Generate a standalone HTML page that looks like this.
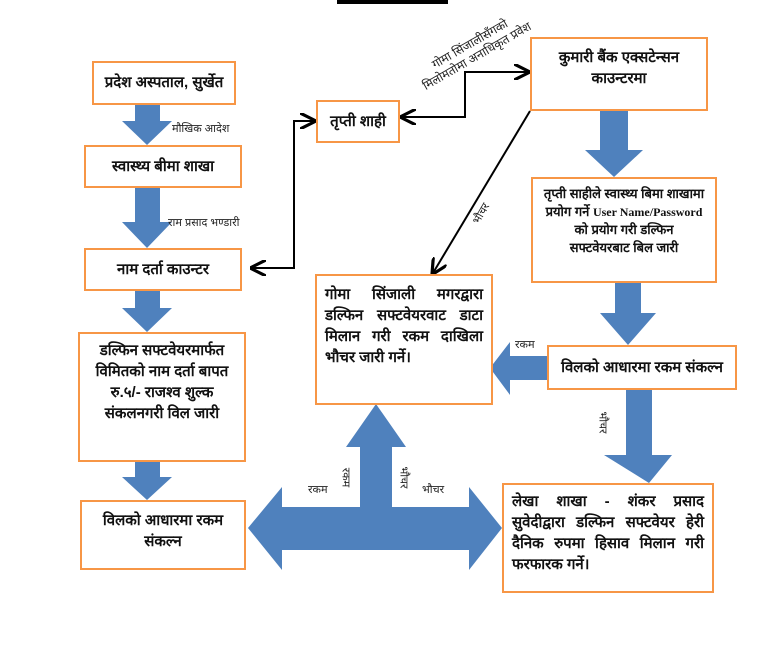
<!DOCTYPE html>
<html><head><meta charset="utf-8"><style>
body{margin:0;width:768px;height:665px;background:#fff;position:relative;overflow:hidden;font-family:"Liberation Sans",sans-serif;}
.b{position:absolute;border:2px solid #f79646;box-sizing:border-box;background:#fff;font-weight:bold;font-size:15px;color:#111;text-align:center;line-height:21px;}
.l{position:absolute;font-size:11px;color:#222;white-space:nowrap;}
svg{position:absolute;left:0;top:0;}
</style></head><body>
<svg width="768" height="665">
<defs><marker id="a" markerWidth="8" markerHeight="8" refX="7" refY="4" orient="auto"><path d="M0,0 L8,4 L0,8" fill="none" stroke="#000" stroke-width="1.6"/></marker></defs>
<rect x="337" y="0" width="111" height="4" fill="#000"/>
<g fill="#4f81bd">
<polygon points="135,104 160,104 160,121 172,121 147,145 122,121 135,121"/>
<polygon points="135,188 160,188 160,222 172,222 147,248 122,222 135,222"/>
<polygon points="135,291 160,291 160,308 172,308 147,332 122,308 135,308"/>
<polygon points="135,462 160,462 160,477 172,477 147,500 122,477 135,477"/>
<polygon points="600,110 628,110 628,150 643,150 614,177 585,150 600,150"/>
<polygon points="615,283 641,283 641,313 656,313 628,345 600,313 615,313"/>
<polygon points="626,390 652,390 652,455 672,455 649,483 604,455 626,455"/>
<polygon points="547,356 547,380 510,380 510,395 490,368 510,342 510,356"/>
<polygon points="248,528 282,487 282,507 360,507 360,447 346,447 376,404 406,447 392,447 392,507 469,507 469,487 502,528 469,570 469,550 282,550 282,570"/>
</g>
<g fill="none" stroke="#000" stroke-width="2">
<polyline points="250,268 294,268 294,121 314,121" marker-end="url(#a)"/>
<line x1="294" y1="268" x2="252" y2="268" marker-end="url(#a)"/>
<polyline points="472,72 465,72 465,117 402,117" marker-end="url(#a)"/>
<line x1="472" y1="72" x2="528" y2="72" marker-end="url(#a)"/>
<line x1="530" y1="111" x2="433" y2="273" marker-end="url(#a)"/>
</g>
</svg>
<div class="b" style="left:92px;top:61px;width:144px;height:44px;padding-top:9px">प्रदेश अस्पताल, सुर्खेत</div>
<div class="b" style="left:84px;top:145px;width:158px;height:43px;padding-top:9px">स्वास्थ्य बीमा शाखा</div>
<div class="b" style="left:84px;top:248px;width:158px;height:43px;padding-top:9px">नाम दर्ता काउन्टर</div>
<div class="b" style="left:78px;top:332px;width:168px;height:130px;padding-top:6px">डल्फिन सफ्टवेयरमार्फत<br>विमितको नाम दर्ता बापत<br>रु.५/- राजश्व शुल्क<br>संकलनगरी विल जारी</div>
<div class="b" style="left:80px;top:500px;width:166px;height:70px;padding-top:8px">विलको आधारमा रकम<br>संकल्न</div>
<div class="b" style="left:316px;top:100px;width:84px;height:43px;padding-top:9px">तृप्ती शाही</div>
<div class="b" style="left:530px;top:37px;width:178px;height:74px;padding-top:8px">कुमारी बैंक एक्सटेन्सन<br>काउन्टरमा</div>
<div class="b" style="left:531px;top:177px;width:186px;height:106px;padding-top:6px;font-size:13px;line-height:18px">तृप्ती साहीले स्वास्थ्य बिमा शाखामा<br>प्रयोग गर्ने <span style="font-family:'Liberation Serif',serif;font-size:12px">User Name/Password</span><br>को प्रयोग गरी डल्फिन<br>सफ्टवेयरबाट बिल जारी</div>
<div class="b" style="left:315px;top:274px;width:178px;height:131px;padding:8px 8px 0;text-align:justify;text-align-last:left">गोमा सिंजाली मगरद्वारा डल्फिन सफ्टवेयरवाट डाटा मिलान गरी रकम दाखिला भौचर जारी गर्ने।</div>
<div class="b" style="left:547px;top:345px;width:190px;height:45px;padding-top:10px">विलको आधारमा रकम संकल्न</div>
<div class="b" style="left:502px;top:483px;width:212px;height:110px;padding:6px 8px 0;text-align:justify;text-align-last:left">लेखा शाखा - शंकर प्रसाद सुवेदीद्वारा डल्फिन सफ्टवेयर हेरी दैनिक रुपमा हिसाव मिलान गरी फरफारक गर्ने।</div>
<div class="l" style="left:172px;top:121px">मौखिक आदेश</div>
<div class="l" style="left:168px;top:215px">राम प्रसाद भण्डारी</div>
<div class="l" style="left:515px;top:337px">रकम</div>
<div class="l" style="left:308px;top:482px">रकम</div>
<div class="l" style="left:422px;top:482px">भौचर</div>
<div class="l" style="left:336px;top:470px;transform:rotate(90deg)">रकम</div>
<div class="l" style="left:393px;top:470px;transform:rotate(90deg)">भौचर</div>
<div class="l" style="left:592px;top:415px;transform:rotate(90deg)">भौचर</div>
<div class="l" style="left:470px;top:206px;transform:rotate(-60deg)">भौचर</div>
<div class="l" style="left:412px;top:36px;transform:rotate(-30deg);text-align:center;line-height:14px;font-size:12px">गोमा सिंजालीसँगको<br>मिलोमतोमा अनाधिकृत प्रवेश</div>
</body></html>
